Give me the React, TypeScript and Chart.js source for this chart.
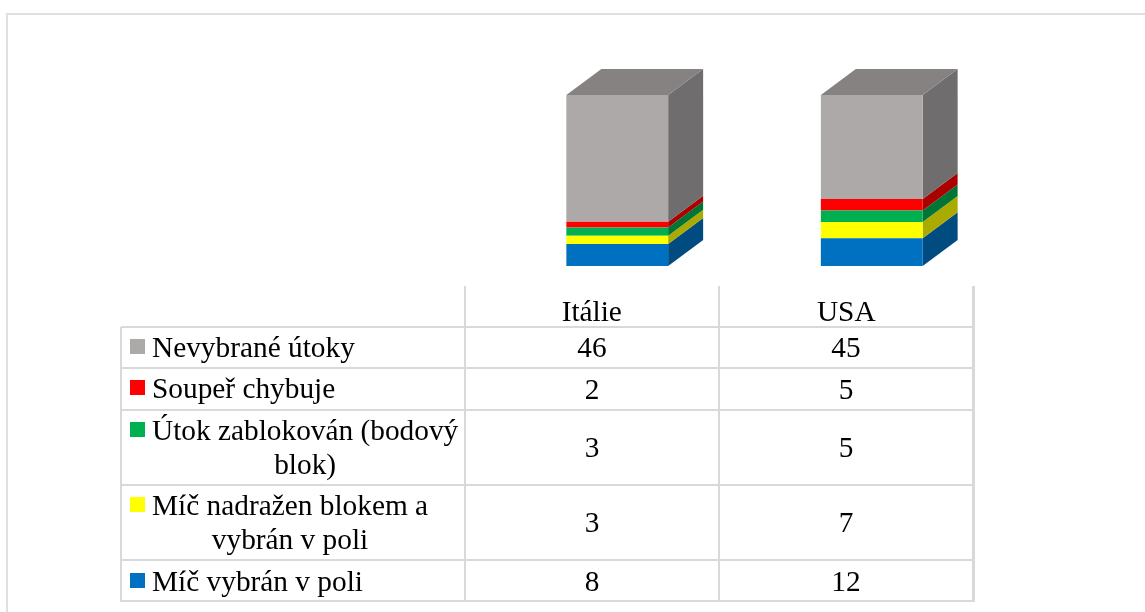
import React, { useEffect, useRef } from "react";
import { Chart, registerables } from "chart.js";

Chart.register(...registerables);

const categories = ["Itálie", "USA"];
const seriesNames = [
  "Míč vybrán v poli",
  "Míč nadražen blokem a vybrán v poli",
  "Útok zablokován (bodový blok)",
  "Soupeř chybuje",
  "Nevybrané útoky",
];
const miceVybrano = [8, 12];
const miceNadrazeno = [3, 7];
const utokZablokovan = [3, 5];
const souperChybuje = [2, 5];
const nevybraneUtoky = [46, 45];
const seriesValues = [miceVybrano, miceNadrazeno, utokZablokovan, souperChybuje, nevybraneUtoky];
const faceColors = ["#0070C0", "#FFFF00", "#00B050", "#FF0000", "#ADA9A8"];
const sideColors = ["#004B80", "#AAAA00", "#007535", "#AA0000", "#6F6D6D"];
const topColor = "#868281";

const totals = categories.map((_, c) => seriesValues.reduce((s, v) => s + v[c], 0));

// table rows top-down, with their wrapped label lines
const tableRows = [
  { series: 4, lines: ["Nevybrané útoky"], bottom: 368, textBase: 357, valueBase: 357 },
  { series: 3, lines: ["Soupeř chybuje"], bottom: 410, textBase: 398, valueBase: 399 },
  { series: 2, lines: ["Útok zablokován (bodový", "blok)"], bottom: 485, textBase: 440, valueBase: 457 },
  { series: 1, lines: ["Míč nadražen blokem a", "vybrán v poli"], bottom: 560, textBase: 515, valueBase: 532 },
  { series: 0, lines: ["Míč vybrán v poli"], bottom: 601, textBase: 591, valueBase: 591 },
];
const FONT_SIZE = 29.33;
const FONT = `${FONT_SIZE}px "Liberation Serif"`;
const LINE = "#D9D9D9";

const extrude = {
  id: "extrude",
  beforeDatasetsDraw(chart: any) {
    const ctx = chart.ctx;
    const dx = 35;
    const dy = -26;
    chart.data.datasets.forEach((_: any, i: number) => {
      chart.getDatasetMeta(i).data.forEach((bar: any) => {
        const p = bar.getProps(["x", "y", "base", "width"], true);
        const r = p.x + p.width / 2;
        const l = p.x - p.width / 2;
        ctx.fillStyle = sideColors[i];
        ctx.beginPath();
        ctx.moveTo(r, p.y);
        ctx.lineTo(r + dx, p.y + dy);
        ctx.lineTo(r + dx, p.base + dy);
        ctx.lineTo(r, p.base);
        ctx.closePath();
        ctx.fill();
        if (i === chart.data.datasets.length - 1) {
          ctx.fillStyle = topColor;
          ctx.beginPath();
          ctx.moveTo(l, p.y);
          ctx.lineTo(l + dx, p.y + dy);
          ctx.lineTo(r + dx, p.y + dy);
          ctx.lineTo(r, p.y);
          ctx.closePath();
          ctx.fill();
        }
      });
    });
  },
};

const dataTable = {
  id: "dataTable",
  afterDraw(chart: any) {
    const ctx = chart.ctx;
    const colLeft = 465;
    const colMid = 719;
    const colRight = 973;
    const tableLeft = 121;
    const colCenters = [(colLeft + colMid) / 2, (colMid + colRight) / 2];
    ctx.save();
    // outer frame
    ctx.strokeStyle = "#E0E0E0";
    ctx.lineWidth = 2;
    ctx.beginPath();
    ctx.moveTo(7, 612);
    ctx.lineTo(7, 14);
    ctx.lineTo(1145, 14);
    ctx.stroke();
    // grid
    ctx.strokeStyle = LINE;
    ctx.beginPath();
    ctx.moveTo(colLeft, 286);
    ctx.lineTo(colLeft, 602);
    ctx.moveTo(colMid, 286);
    ctx.lineTo(colMid, 602);
    ctx.moveTo(tableLeft, 327);
    ctx.lineTo(tableLeft, 602);
    ctx.moveTo(tableLeft, 327);
    ctx.lineTo(colRight, 327);
    tableRows.forEach((row) => {
      ctx.moveTo(tableLeft, row.bottom);
      ctx.lineTo(colRight, row.bottom);
    });
    ctx.stroke();
    ctx.lineWidth = 3;
    ctx.beginPath();
    ctx.moveTo(colRight + 0.5, 286);
    ctx.lineTo(colRight + 0.5, 602);
    ctx.stroke();
    // rows
    ctx.font = FONT;
    ctx.textBaseline = "alphabetic";
    tableRows.forEach((row) => {
      const base = row.textBase;
      ctx.fillStyle = faceColors[row.series];
      ctx.fillRect(130, base - 18, 15, 15);
      ctx.fillStyle = "#000";
      ctx.textAlign = "left";
      ctx.fillText(row.lines[0], 152, base);
      if (row.lines.length > 1) {
        const center = 152 + ctx.measureText(row.lines[0]).width / 2;
        ctx.textAlign = "center";
        ctx.fillText(row.lines[1], center, base + 34);
      }
      ctx.textAlign = "center";
      categories.forEach((_, c) => {
        ctx.fillText(String(seriesValues[row.series][c]), colCenters[c], row.valueBase);
      });
    });
    ctx.restore();
  },
};

export default function App() {
  const ref = useRef<HTMLCanvasElement>(null);
  useEffect(() => {
    const chart = new Chart(ref.current as HTMLCanvasElement, {
      type: "bar",
      data: {
        labels: categories,
        datasets: seriesValues.map((values, i) => ({
          label: seriesNames[i],
          data: values.map((v, c) => (v / totals[c]) * 100),
          backgroundColor: faceColors[i],
          borderWidth: 0,
          barPercentage: 1,
          categoryPercentage: 0.4,
        })),
      },
      options: {
        animation: false,
        responsive: false,
        layout: { padding: { left: 490, right: 146, top: 95, bottom: 286 } },
        plugins: { legend: { display: false }, tooltip: { enabled: false } },
        scales: {
          x: {
            stacked: true,
            afterFit: (s: any) => {
              s.height = 60;
            },
            grid: { display: false, drawTicks: false },
            border: { display: false },
            ticks: {
              color: "#000",
              padding: 30,
              labelOffset: -25.5,
              maxRotation: 0,
              minRotation: 0,
              font: { family: "Liberation Serif", size: FONT_SIZE },
            },
          },
          y: { stacked: true, display: false, min: 0, max: 100 },
        },
      },
      plugins: [extrude, dataTable],
    });
    return () => chart.destroy();
  }, []);
  return (
    <div style={{ position: "fixed", left: 0, top: 0, width: 1145, height: 612, background: "#fff" }}>
      <canvas ref={ref} width={1145} height={612} style={{ display: "block" }} />
    </div>
  );
}
